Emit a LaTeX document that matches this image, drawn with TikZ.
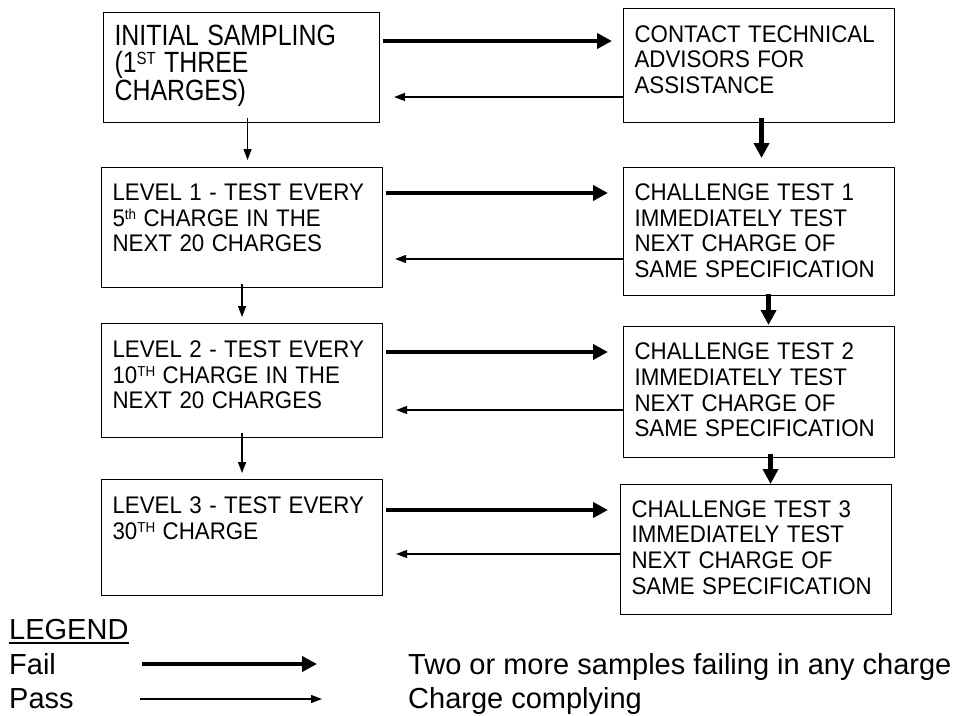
\documentclass[tikz,border=0pt]{standalone}
\usepackage{fontspec}
\setmainfont{Liberation Sans}
\usepackage{graphicx}
\usepackage{tikz}
\usetikzlibrary{arrows.meta}

\newcommand{\flowfont}{\fontsize{24}{25.6}\selectfont}
\newcommand{\firstfont}{\fontsize{29.3}{27}\selectfont}
\newcommand{\legfont}{\fontsize{29}{34}\selectfont}
% narrow set lines, as in the scanned chart
\newcommand{\squeeze}[2]{\scalebox{#1}[1]{\parbox[t]{300pt}{\raggedright #2}}}
\newcommand{\ordsup}[1]{\raisebox{0.29em}{\scalebox{0.6}{#1}}}
\hfuzz=60pt

\begin{document}
\begin{tikzpicture}[x=1pt,y=-1pt,
   stepbox/.style={draw, line width=1.1pt, anchor=north west, align=left,
                   inner xsep=11pt, inner ysep=0pt, font=\flowfont},
   fail/.style={line width=4.5pt, -{Triangle[length=15pt,width=15pt]}},
   pass/.style={line width=1.3pt, -{Triangle[length=11pt,width=8pt]}},
   legtext/.style={anchor=base west, inner sep=0pt, font=\legfont}]
   \useasboundingbox (0,0) rectangle (956,715);

   % sampling levels
   \node[stepbox, font=\firstfont, text width=254pt, text height=33pt, text depth=77pt]
      (l0) at (103,12) {\squeeze{0.85}{INITIAL SAMPLING\\(1\ordsup{ST} THREE\\CHARGES)}};
   \node[stepbox, text width=259pt, text height=33pt, text depth=87pt]
      (l1) at (101,167) {\squeeze{0.93}{LEVEL 1 - TEST EVERY\\5\ordsup{th} CHARGE IN THE\\NEXT 20 CHARGES}};
   \node[stepbox, text width=259pt, text height=34pt, text depth=80pt]
      (l2) at (101,323) {\squeeze{0.93}{LEVEL 2 - TEST EVERY\\10\ordsup{TH} CHARGE IN THE\\NEXT 20 CHARGES}};
   \node[stepbox, text width=259pt, text height=34pt, text depth=82pt]
      (l3) at (101,479) {\squeeze{0.93}{LEVEL 3 - TEST EVERY\\30\ordsup{TH} CHARGE}};

   % challenge side
   \node[stepbox, text width=249pt, text height=33.7pt, text depth=80.3pt]
      (c0) at (623,8) {\squeeze{0.93}{CONTACT TECHNICAL\\ADVISORS FOR\\ASSISTANCE}};
   \node[stepbox, text width=249pt, text height=33pt, text depth=95pt]
      (c1) at (623,167) {\squeeze{0.93}{CHALLENGE TEST 1\\IMMEDIATELY TEST\\NEXT CHARGE OF\\SAME SPECIFICATION}};
   \node[stepbox, text width=249pt, text height=33.3pt, text depth=97.7pt]
      (c2) at (623,326) {\squeeze{0.93}{CHALLENGE TEST 2\\IMMEDIATELY TEST\\NEXT CHARGE OF\\SAME SPECIFICATION}};
   \node[stepbox, text width=249pt, text height=32.7pt, text depth=97.3pt]
      (c3) at (620,484) {\squeeze{0.93}{CHALLENGE TEST 3\\IMMEDIATELY TEST\\NEXT CHARGE OF\\SAME SPECIFICATION}};

   % fail arrows
   \draw[fail, shorten <=3pt, shorten >=11pt] ([yshift=-29pt]l0.north east) -- ([yshift=-29pt]l0.north east -| c0.west);
   \draw[fail, shorten <=3pt, shorten >=15pt] ([yshift=-26pt]l1.north east) -- ([yshift=-26pt]l1.north east -| c1.west);
   \draw[fail, shorten <=3pt, shorten >=15pt] ([yshift=-29pt]l2.north east) -- ([yshift=-29pt]l2.north east -| c2.west);
   \draw[fail, shorten <=3pt, shorten >=12pt] ([yshift=-31pt]l3.north east) -- ([yshift=-31pt]l3.north east -| c3.west);

   % pass arrows
   \draw[pass, shorten >=14pt] ([yshift=-89pt]c0.north west) -- ([yshift=-89pt]c0.north west -| l0.east);
   \draw[pass, shorten >=12pt] ([yshift=-92pt]c1.north west) -- ([yshift=-92pt]c1.north west -| l1.east);
   \draw[pass, shorten >=13pt] ([yshift=-84pt]c2.north west) -- ([yshift=-84pt]c2.north west -| l2.east);
   \draw[pass, shorten >=13pt] ([yshift=-70pt]c3.north west) -- ([yshift=-70pt]c3.north west -| l3.east);

   % down the levels
   \draw[pass, shorten <=-5pt, shorten >=7pt] ([xshift=6pt]l0.south) -- ([xshift=6pt]l0.south |- l1.north);
   \draw[pass, shorten <=-4pt, shorten >=6pt] (l1.south) -- (l1.south |- l2.north);
   \draw[pass, shorten <=-5pt, shorten >=6pt] (l2.south) -- (l2.south |- l3.north);

   % down the challenges
   \draw[fail, shorten <=-5pt, shorten >=9pt] ([xshift=2.5pt]c0.south) -- ([xshift=2.5pt]c0.south |- c1.north);
   \draw[fail, shorten <=-2pt, shorten >=1pt] ([xshift=9.5pt]c1.south) -- ([xshift=9.5pt]c1.south |- c2.north);
   \draw[fail, shorten <=-4pt] ([xshift=11.5pt]c2.south) -- ([xshift=11.5pt]c2.south |- c3.north);

   % legend
   \node[legtext] (leg) at (9,639) {LEGEND};
   \draw[line width=2pt] ([yshift=-4pt]leg.base west) -- ([yshift=-4pt]leg.base east);
   \node[legtext] (lfail) at (9,674) {Fail};
   \node[legtext] (lpass) at (9,708) {Pass};
   \node[legtext] (dfail) at (408,674) {Two or more samples failing in any charge};
   \node[legtext] (dpass) at (408,708) {Charge complying};
   \coordinate (f1) at (142,664);
   \coordinate (f2) at (317,664);
   \coordinate (p1) at (140,699);
   \coordinate (p2) at (322,699);
   \draw[fail] (f1) -- (f2);
   \draw[pass] (p1) -- (p2);
\end{tikzpicture}
\end{document}
